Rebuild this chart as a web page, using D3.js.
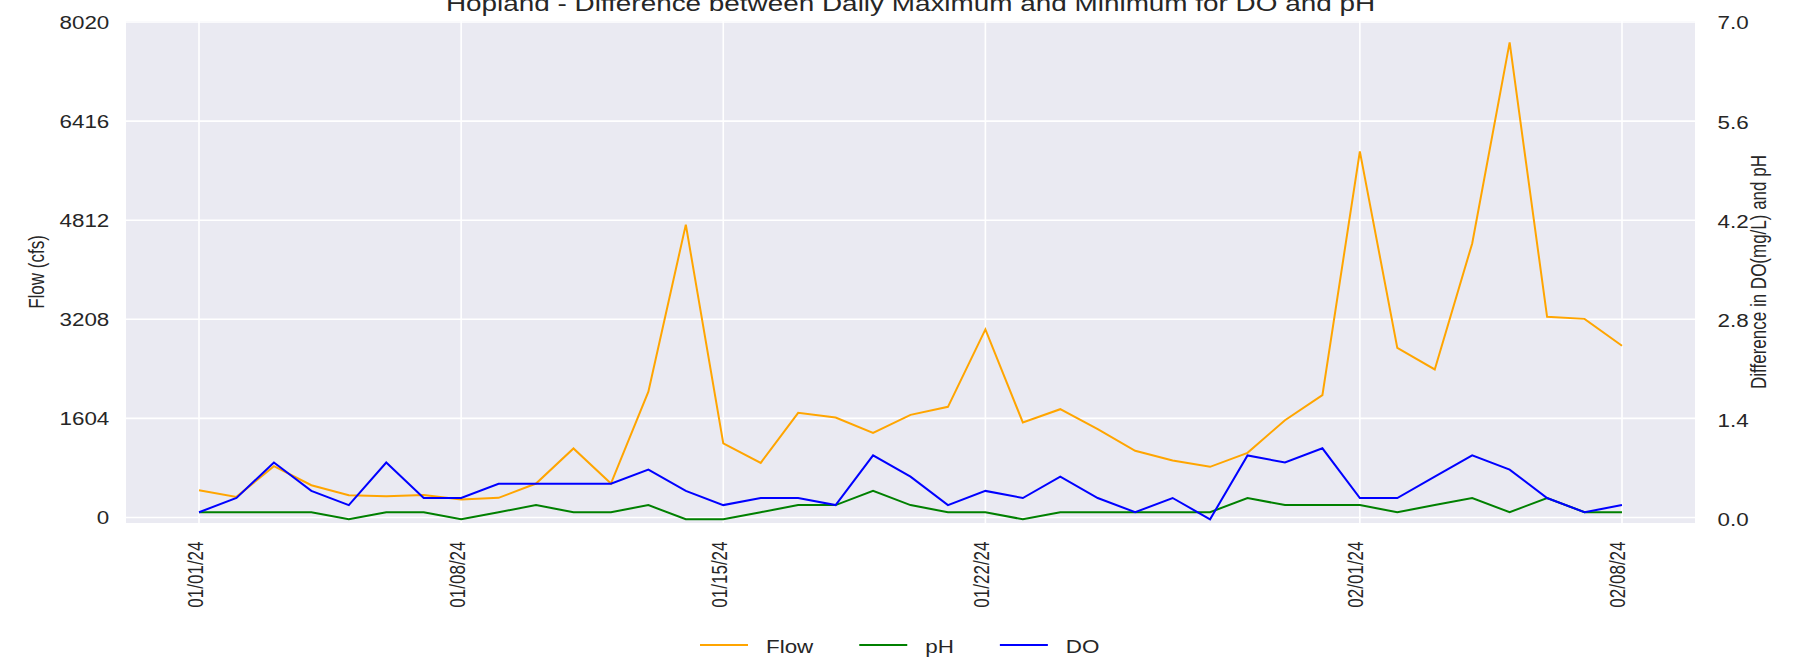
<!DOCTYPE html>
<html>
<head>
<meta charset="utf-8">
<script src="https://cdn.jsdelivr.net/npm/d3@7"></script>
<style>
  html, body { margin: 0; padding: 0; background: #ffffff; }
  svg { display: block; }
  text { font-family: "Liberation Sans", Arial, sans-serif; fill: #262626; }
</style>
</head>
<body>
<svg id="chart" width="1806" height="661"></svg>
<script>
// ---------------- data ----------------
const dates = [
  "2024-01-01","2024-01-02","2024-01-03","2024-01-04","2024-01-05","2024-01-06","2024-01-07",
  "2024-01-08","2024-01-09","2024-01-10","2024-01-11","2024-01-12","2024-01-13","2024-01-14",
  "2024-01-15","2024-01-16","2024-01-17","2024-01-18","2024-01-19","2024-01-20","2024-01-21",
  "2024-01-22","2024-01-23","2024-01-24","2024-01-25","2024-01-26","2024-01-27","2024-01-28",
  "2024-01-29","2024-01-30","2024-01-31","2024-02-01","2024-02-02","2024-02-03","2024-02-04",
  "2024-02-05","2024-02-06","2024-02-07","2024-02-08"
];
const flowValues = [
  442, 334, 830, 523, 361, 345, 366,
  291, 318, 550, 1117, 550, 2037, 4740,
  1200, 884, 1694, 1619, 1370, 1661, 1791,
  3044, 1538, 1753, 1430, 1079, 922, 820,
  1046, 1575, 1980, 5925, 2746, 2396, 4436,
  7690, 3248, 3215, 2779
];
const phValues = [
  0.1, 0.1, 0.1, 0.1, 0.0, 0.1, 0.1,
  0.0, 0.1, 0.2, 0.1, 0.1, 0.2, 0.0,
  0.0, 0.1, 0.2, 0.2, 0.4, 0.2, 0.1,
  0.1, 0.0, 0.1, 0.1, 0.1, 0.1, 0.1,
  0.3, 0.2, 0.2, 0.2, 0.1, 0.2, 0.3,
  0.1, 0.3, 0.1, 0.1
];
const doValues = [
  0.1, 0.3, 0.8, 0.4, 0.2, 0.8, 0.3,
  0.3, 0.5, 0.5, 0.5, 0.5, 0.7, 0.4,
  0.2, 0.3, 0.3, 0.2, 0.9, 0.6, 0.2,
  0.4, 0.3, 0.6, 0.3, 0.1, 0.3, 0.0,
  0.9, 0.8, 1.0, 0.3, 0.3, 0.6, 0.9,
  0.7, 0.3, 0.1, 0.2
];
const xTickDates = ["2024-01-01","2024-01-08","2024-01-15","2024-01-22","2024-02-01","2024-02-08"];
const leftTicks = [0, 1604, 3208, 4812, 6416, 8020];
const rightTicks = [0.0, 1.4, 2.8, 4.2, 5.6, 7.0];
const seriesNames = ["Flow", "pH", "DO"];
const seriesColors = ["#FFA500", "#008000", "#0000FF"];
const titleText = "Hopland - Difference between Daily Maximum and Minimum for DO and pH";
const leftLabel = "Flow (cfs)";
const rightLabel = "Difference in DO(mg/L) and pH";

// ---------------- layout ----------------
const SX = 1.28; // horizontal text stretch of the reference
const plot = { l: 126, r: 1695, t: 21, b: 523 };
const parse = d3.utcParse("%Y-%m-%d");
const dayMs = 864e5;
const dateObjs = dates.map(parse);
const pad = 1.95 * dayMs;

const x = d3.scaleUtc()
  .domain([new Date(+dateObjs[0] - pad), new Date(+dateObjs[dateObjs.length - 1] + pad)])
  .range([plot.l, plot.r]);
const yL = d3.scaleLinear().domain([0, 8020]).range([517.5, 22]);
const yR = d3.scaleLinear().domain([0, 7]).range([519.3, 22.3]);

const svg = d3.select("#chart");

// plot background
svg.append("rect")
  .attr("x", plot.l).attr("y", plot.t)
  .attr("width", plot.r - plot.l).attr("height", plot.b - plot.t)
  .attr("fill", "#EAEAF2");

// grid
const grid = svg.append("g");
grid.selectAll("line.h").data(leftTicks).join("line")
  .attr("x1", plot.l).attr("x2", plot.r)
  .attr("y1", d => yL(d)).attr("y2", d => yL(d))
  .attr("stroke", "#ffffff").attr("stroke-width", 1.6);
grid.selectAll("line.v").data(xTickDates.map(parse)).join("line")
  .attr("x1", d => x(d)).attr("x2", d => x(d))
  .attr("y1", plot.t).attr("y2", plot.b)
  .attr("stroke", "#ffffff").attr("stroke-width", 1.6);

// lines
const lineFlow = d3.line().x((d, i) => x(dateObjs[i])).y(d => yL(d));
const lineR = d3.line().x((d, i) => x(dateObjs[i])).y(d => yR(d));
svg.append("path").datum(flowValues).attr("d", lineFlow)
  .attr("fill", "none").attr("stroke", seriesColors[0]).attr("stroke-width", 2);
svg.append("path").datum(phValues).attr("d", lineR)
  .attr("fill", "none").attr("stroke", seriesColors[1]).attr("stroke-width", 2);
svg.append("path").datum(doValues).attr("d", lineR)
  .attr("fill", "none").attr("stroke", seriesColors[2]).attr("stroke-width", 2);

// left axis
const gL = svg.append("g").attr("transform", `translate(${plot.l},0)`)
  .call(d3.axisLeft(yL).tickValues(leftTicks).tickSize(0).tickFormat(d3.format("d")));
gL.select(".domain").remove();
gL.selectAll("text")
  .attr("x", null).attr("dy", "0.36em")
  .attr("transform", `translate(-16.7,0) scale(${SX},1)`)
  .attr("text-anchor", "end")
  .style("font-size", "17.5px").style("fill", "#262626");

// right axis
const gR = svg.append("g").attr("transform", `translate(${plot.r},0)`)
  .call(d3.axisRight(yR).tickValues(rightTicks).tickSize(0).tickFormat(d3.format(".1f")));
gR.select(".domain").remove();
gR.selectAll("text")
  .attr("x", null).attr("dy", "0.36em")
  .attr("transform", `translate(22.5,0) scale(${SX},1)`)
  .attr("text-anchor", "start")
  .style("font-size", "17.5px").style("fill", "#262626");

// bottom axis
const gB = svg.append("g").attr("transform", `translate(0,${plot.b})`)
  .call(d3.axisBottom(x).tickValues(xTickDates.map(parse)).tickSize(0).tickFormat(d3.utcFormat("%m/%d/%y")));
gB.select(".domain").remove();
gB.selectAll("text")
  .attr("y", null).attr("dy", null)
  .attr("transform", `translate(3,18.5) scale(${SX},1) rotate(-90)`)
  .attr("text-anchor", "end")
  .style("font-size", "17px").style("fill", "#262626");

// axis titles
svg.append("text")
  .attr("transform", `translate(44,${(plot.t + plot.b) / 2}) scale(${SX},1) rotate(-90)`)
  .attr("text-anchor", "middle")
  .style("font-size", "17px")
  .text(leftLabel);
svg.append("text")
  .attr("transform", `translate(1766,${(plot.t + plot.b) / 2}) scale(${SX},1) rotate(-90)`)
  .attr("text-anchor", "middle")
  .style("font-size", "17px")
  .text(rightLabel);

// title
svg.append("text")
  .attr("transform", `translate(${(plot.l + plot.r) / 2},10.5) scale(${SX},1)`)
  .attr("text-anchor", "middle")
  .style("font-size", "21.8px")
  .text(titleText);

// legend
const leg = svg.append("g");
let cx = 700;
seriesNames.forEach((name, i) => {
  leg.append("line")
    .attr("x1", cx).attr("x2", cx + 48)
    .attr("y1", 645).attr("y2", 645)
    .attr("stroke", seriesColors[i]).attr("stroke-width", 2);
  const t = leg.append("text")
    .attr("transform", `translate(${cx + 66},652.5) scale(${SX},1)`)
    .style("font-size", "17.5px")
    .text(name);
  const w = t.node().getComputedTextLength() * SX;
  cx = cx + 66 + w + 46;
});
</script>
</body>
</html>
